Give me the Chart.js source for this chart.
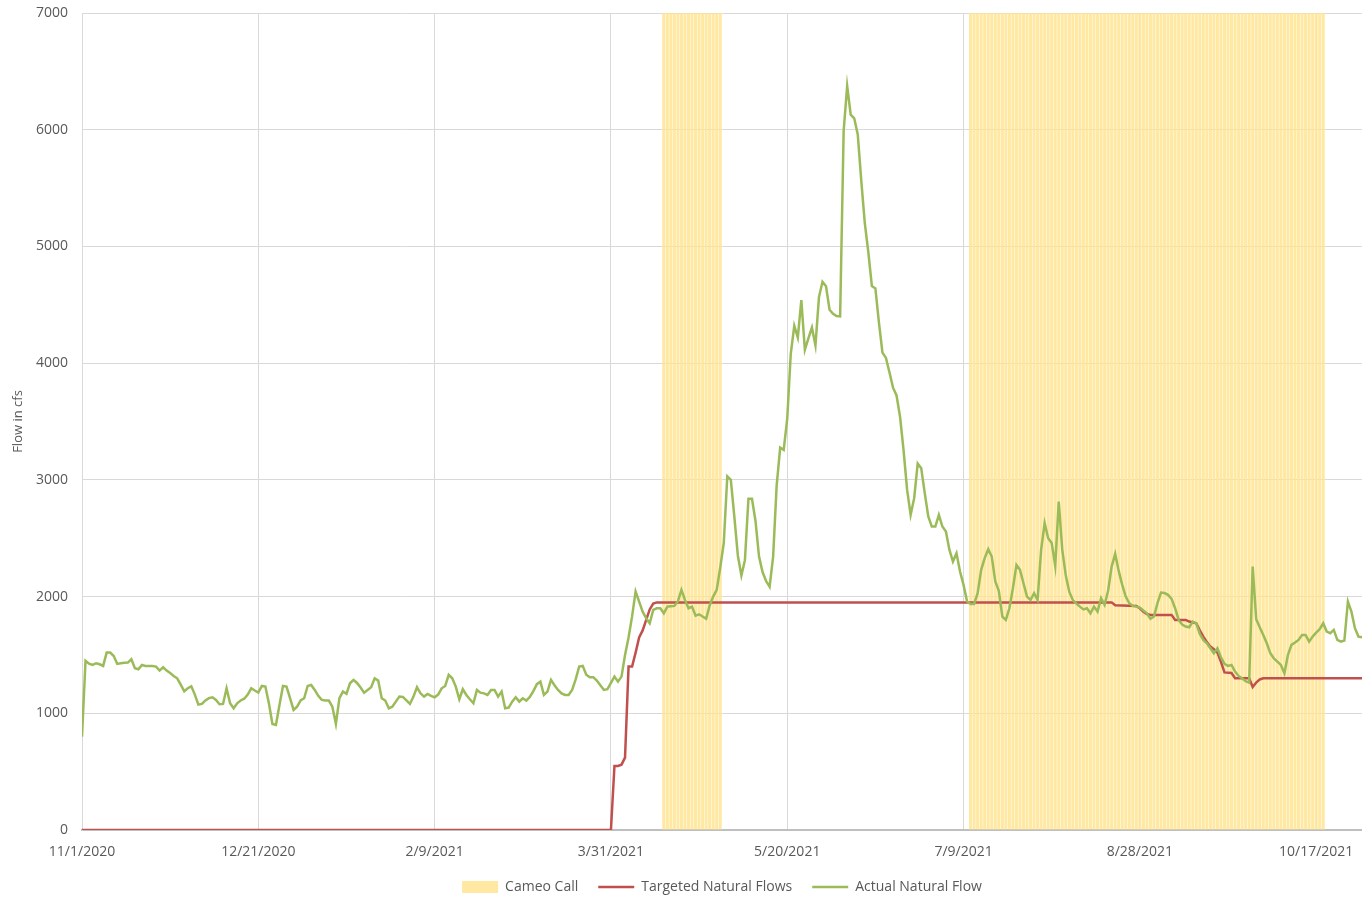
<!DOCTYPE html>
<html>
<head>
<meta charset="utf-8">
<title>Cameo Call and Natural Flows</title>
<script src="https://cdn.jsdelivr.net/npm/chart.js@4.4.1/dist/chart.umd.min.js"></script>
<style>
  body { margin: 0; background: #fff; }
  #chart { display: block; }
</style>
</head>
<body>
<canvas id="chart" width="1362" height="897"></canvas>
<script>
// x values are days counted from 11/1/2020
const tickDays = [0, 50, 100, 150, 200, 250, 300, 350];
const tickLabels = ['11/1/2020', '12/21/2020', '2/9/2021', '3/31/2021', '5/20/2021', '7/9/2021', '8/28/2021', '10/17/2021'];
const lastDay = 363;

// Cameo Call periods (first and last day of each run), drawn full height
const cameoStart = [165, 252];
const cameoEnd = [181, 352];
const cameoLevel = 7000;

// Targeted Natural Flows, read at its corners
const targetDays = [0, 150, 151, 152, 153, 154, 155, 156, 157, 158, 159, 160, 161, 162, 163,
  292, 293, 299, 300, 301, 302, 303, 309, 310, 313, 314, 316, 317, 318, 319, 320, 321, 322,
  323, 324, 326, 327, 331, 332, 333, 334, 335, 363];
const targetFlows = [0, 0, 549, 549, 560, 620, 1400, 1400, 1520, 1650, 1710, 1800, 1890, 1940, 1950,
  1950, 1925, 1920, 1900, 1870, 1850, 1843, 1843, 1800, 1800, 1786, 1771, 1710, 1657, 1610, 1571, 1550, 1520,
  1440, 1350, 1345, 1300, 1300, 1225, 1263, 1290, 1300, 1300];

// Actual Natural Flow, one value per day
const actualFlow = [
  800, 1450, 1425, 1414, 1429, 1420, 1406, 1520, 1520, 1491,
  1423, 1429, 1432, 1434, 1463, 1386, 1377, 1414, 1406, 1406,
  1406, 1400, 1366, 1394, 1366, 1345, 1320, 1300, 1246, 1189,
  1215, 1231, 1160, 1074, 1080, 1110, 1130, 1137, 1114, 1077,
  1080, 1214, 1086, 1043, 1086, 1110, 1125, 1160, 1214, 1195,
  1177, 1234, 1229, 1086, 909, 900, 1071, 1234, 1229, 1129,
  1029, 1057, 1110, 1129, 1234, 1243, 1200, 1150, 1115, 1110,
  1109, 1057, 909, 1129, 1186, 1166, 1257, 1286, 1260, 1220,
  1177, 1200, 1223, 1300, 1280, 1129, 1109, 1043, 1057, 1100,
  1143, 1140, 1110, 1080, 1143, 1223, 1171, 1143, 1166, 1150,
  1137, 1160, 1214, 1234, 1329, 1300, 1229, 1120, 1206, 1157,
  1120, 1086, 1200, 1177, 1171, 1157, 1200, 1200, 1143, 1186,
  1043, 1049, 1100, 1137, 1100, 1129, 1109, 1140, 1190, 1250,
  1271, 1157, 1186, 1286, 1240, 1200, 1170, 1157, 1157, 1200,
  1290, 1400, 1406, 1330, 1309, 1309, 1280, 1240, 1200, 1206,
  1260, 1314, 1271, 1314, 1500, 1650, 1830, 2043, 1957, 1871,
  1814, 1771, 1886, 1900, 1900, 1857, 1914, 1918, 1920, 1960,
  2057, 1971, 1900, 1914, 1836, 1848, 1829, 1810, 1924, 2000,
  2057, 2248, 2457, 3030, 3000, 2686, 2350, 2180, 2312, 2838,
  2838, 2648, 2343, 2210, 2133, 2084, 2343, 2950, 3276, 3257,
  3524, 4080, 4320, 4220, 4540, 4115, 4213, 4305, 4152, 4566,
  4697, 4658, 4458, 4422, 4403, 4400, 5990, 6374, 6129, 6098,
  5960, 5562, 5200, 4950, 4660, 4640, 4350, 4090, 4045, 3920,
  3790, 3723, 3540, 3250, 2914, 2700, 2843, 3140, 3100, 2886,
  2686, 2600, 2600, 2700, 2600, 2557, 2400, 2300, 2371, 2214,
  2100, 1957, 1937, 1937, 2029, 2229, 2330, 2406, 2343, 2129,
  2050, 1829, 1800, 1900, 2071, 2271, 2229, 2114, 2000, 1971,
  2029, 1971, 2400, 2629, 2500, 2460, 2263, 2814, 2400, 2180,
  2040, 1970, 1940, 1914, 1890, 1900, 1857, 1914, 1871, 1986,
  1929, 2050, 2257, 2366, 2220, 2100, 2000, 1943, 1920, 1914,
  1905, 1880, 1857, 1809, 1829, 1943, 2034, 2030, 2015, 1980,
  1900, 1800, 1760, 1743, 1737, 1786, 1771, 1680, 1629, 1600,
  1557, 1514, 1557, 1480, 1423, 1406, 1414, 1357, 1320, 1300,
  1275, 1263, 2257, 1806, 1737, 1671, 1600, 1514, 1471, 1443,
  1414, 1343, 1500, 1586, 1606, 1629, 1671, 1671, 1614, 1657,
  1691, 1720, 1771, 1700, 1686, 1714, 1629, 1614, 1623, 1957,
  1871, 1729, 1657, 1651
];

const cameoBars = [];
cameoStart.forEach((s, i) => {
  for (let d = s; d <= cameoEnd[i]; d++) cameoBars.push({ x: d, y: cameoLevel });
});

Chart.defaults.font.family = "'Open Sans', sans-serif";
Chart.defaults.font.size = 14;
Chart.defaults.color = '#595959';

const ctx = document.getElementById('chart').getContext('2d');
new Chart(ctx, {
  type: 'line',
  data: {
    datasets: [
      {
        type: 'bar',
        label: 'Cameo Call',
        data: cameoBars,
        backgroundColor: 'rgba(255, 228, 145, 0.85)',
        borderWidth: 0,
        barPercentage: 1,
        categoryPercentage: 0.86,
        pointStyle: 'rect',
        order: 3
      },
      {
        label: 'Targeted Natural Flows',
        data: targetDays.map((d, i) => ({ x: d, y: targetFlows[i] })),
        borderColor: '#C0504D',
        backgroundColor: '#C0504D',
        borderWidth: 2.5,
        pointRadius: 0,
        pointStyle: 'line',
        tension: 0,
        order: 2
      },
      {
        label: 'Actual Natural Flow',
        data: actualFlow.map((v, i) => ({ x: i, y: v })),
        borderColor: '#9BBB59',
        backgroundColor: '#9BBB59',
        borderWidth: 2.5,
        pointRadius: 0,
        pointStyle: 'line',
        tension: 0,
        order: 1
      }
    ]
  },
  options: {
    responsive: false,
    animation: false,
    layout: { padding: { top: 0, right: 0, bottom: -7, left: 0 } },
    plugins: {
      legend: {
        position: 'bottom',
        fullSize: false,
        labels: {
          usePointStyle: true,
          pointStyleWidth: 36,
          boxHeight: 12,
          padding: 20,
          sort: (a, b) => a.datasetIndex - b.datasetIndex
        }
      },
      tooltip: { enabled: false }
    },
    scales: {
      x: {
        type: 'linear',
        min: 0,
        max: lastDay,
        offset: false,
        afterBuildTicks: s => { s.ticks = tickDays.map(v => ({ value: v })); },
        afterFit: s => { s.height = 30; s.paddingLeft = 0; s.paddingRight = 0; },
        ticks: {
          autoSkip: false,
          maxRotation: 0,
          padding: 14,
          font: { size: 14, lineHeight: 1.1 },
          callback: v => tickLabels[tickDays.indexOf(v)] || ''
        },
        grid: { color: '#d9d9d9', drawTicks: false, offset: false },
        border: { color: '#bfbfbf', width: 2 }
      },
      y: {
        min: 0,
        max: 7000,
        afterFit: s => { s.width = 82; s.paddingTop = 13; s.paddingBottom = 0; },
        ticks: { stepSize: 1000, padding: 14, callback: v => String(v) },
        grid: { color: '#d9d9d9', drawTicks: false },
        border: { color: '#d9d9d9' },
        title: { display: true, text: 'Flow in cfs', font: { size: 13 }, padding: { top: 10, bottom: 0 } }
      }
    }
  }
});
</script>
</body>
</html>
